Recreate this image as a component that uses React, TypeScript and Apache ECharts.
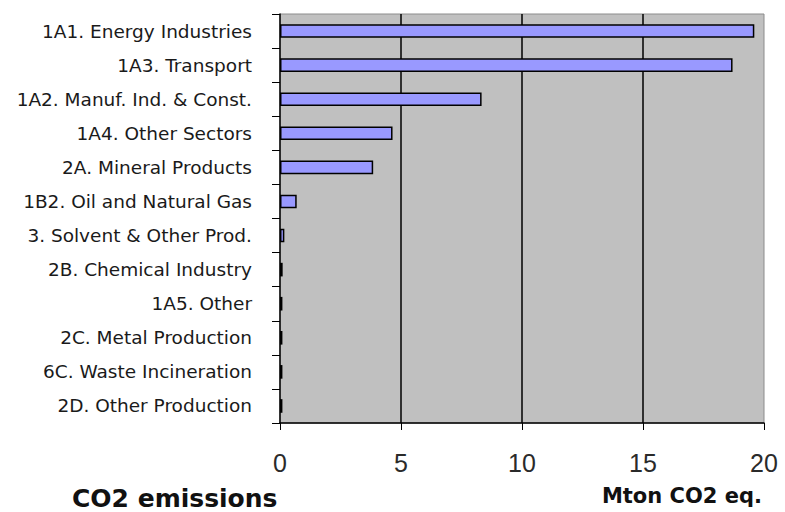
import React, { useEffect, useRef } from "react";
import * as echarts from "echarts";

const categories = [
  "1A1. Energy Industries",
  "1A3. Transport",
  "1A2. Manuf. Ind. & Const.",
  "1A4. Other Sectors",
  "2A. Mineral Products",
  "1B2. Oil and Natural Gas",
  "3. Solvent & Other Prod.",
  "2B. Chemical Industry",
  "1A5. Other",
  "2C. Metal Production",
  "6C. Waste Incineration",
  "2D. Other Production",
];
const emissions = [19.6, 18.7, 8.33, 4.65, 3.85, 0.69, 0.18, 0.11, 0.1, 0.1, 0.1, 0.1];
const xMin = 0;
const xMax = 20;
const xStep = 5;
const chartTitle = "CO2 emissions";
const unitLabel = "Mton CO2 eq.";

export default function App() {
  const ref = useRef<HTMLDivElement>(null);
  useEffect(() => {
    if (!ref.current) return;
    const chart = echarts.init(ref.current, null, { renderer: "svg" });
    chart.setOption({
      animation: false,
      backgroundColor: "#ffffff",
      grid: {
        left: 280,
        right: 21,
        top: 14,
        bottom: 89,
        show: true,
        backgroundColor: "#c0c0c0",
        borderColor: "#8c8c8c",
        borderWidth: 1,
        outerBoundsMode: "none",
      },
      xAxis: {
        type: "value",
        min: xMin,
        max: xMax,
        interval: xStep,
        axisLine: { show: true, lineStyle: { color: "#000", width: 1.5 } },
        axisTick: { show: true, length: 7, lineStyle: { color: "#000", width: 1 } },
        axisLabel: {
          margin: 27,
          fontFamily: "Liberation Sans",
          fontSize: 25,
          color: "#2a2a2a",
        },
        splitLine: {
          show: true,
          showMinLine: false,
          showMaxLine: false,
          lineStyle: { color: "#000", width: 1.5 },
        },
      },
      yAxis: {
        type: "category",
        data: categories,
        inverse: true,
        axisLine: { show: true, lineStyle: { color: "#000", width: 1.5 } },
        axisTick: { show: true, length: 8, lineStyle: { color: "#000", width: 1 } },
        axisLabel: {
          margin: 28,
          fontFamily: "DejaVu Sans",
          fontSize: 18.5,
          color: "#1a1a1a",
          padding: [3, 0, 0, 0],
        },
        splitLine: { show: false },
      },
      series: [
        {
          type: "bar",
          data: emissions,
          barWidth: "40%",
          itemStyle: { color: "#9999ff", borderColor: "#000", borderWidth: 1.5 },
        },
      ],
      graphic: [
        {
          type: "text",
          x: 72,
          y: 498,
          style: {
            text: chartTitle,
            x: 0,
            y: 0,
            font: "bold 25px 'DejaVu Sans'",
            fill: "#111",
            textAlign: "left",
            textVerticalAlign: "middle",
          },
        },
        {
          type: "text",
          x: 762,
          y: 496,
          style: {
            text: unitLabel,
            x: 0,
            y: 0,
            font: "bold 21px 'DejaVu Sans'",
            fill: "#111",
            textAlign: "right",
            textVerticalAlign: "middle",
          },
        },
      ],
    });
    return () => chart.dispose();
  }, []);
  return (
    <div
      ref={ref}
      style={{ position: "fixed", left: 0, top: 0, width: 785, height: 512, background: "#fff" }}
    />
  );
}
